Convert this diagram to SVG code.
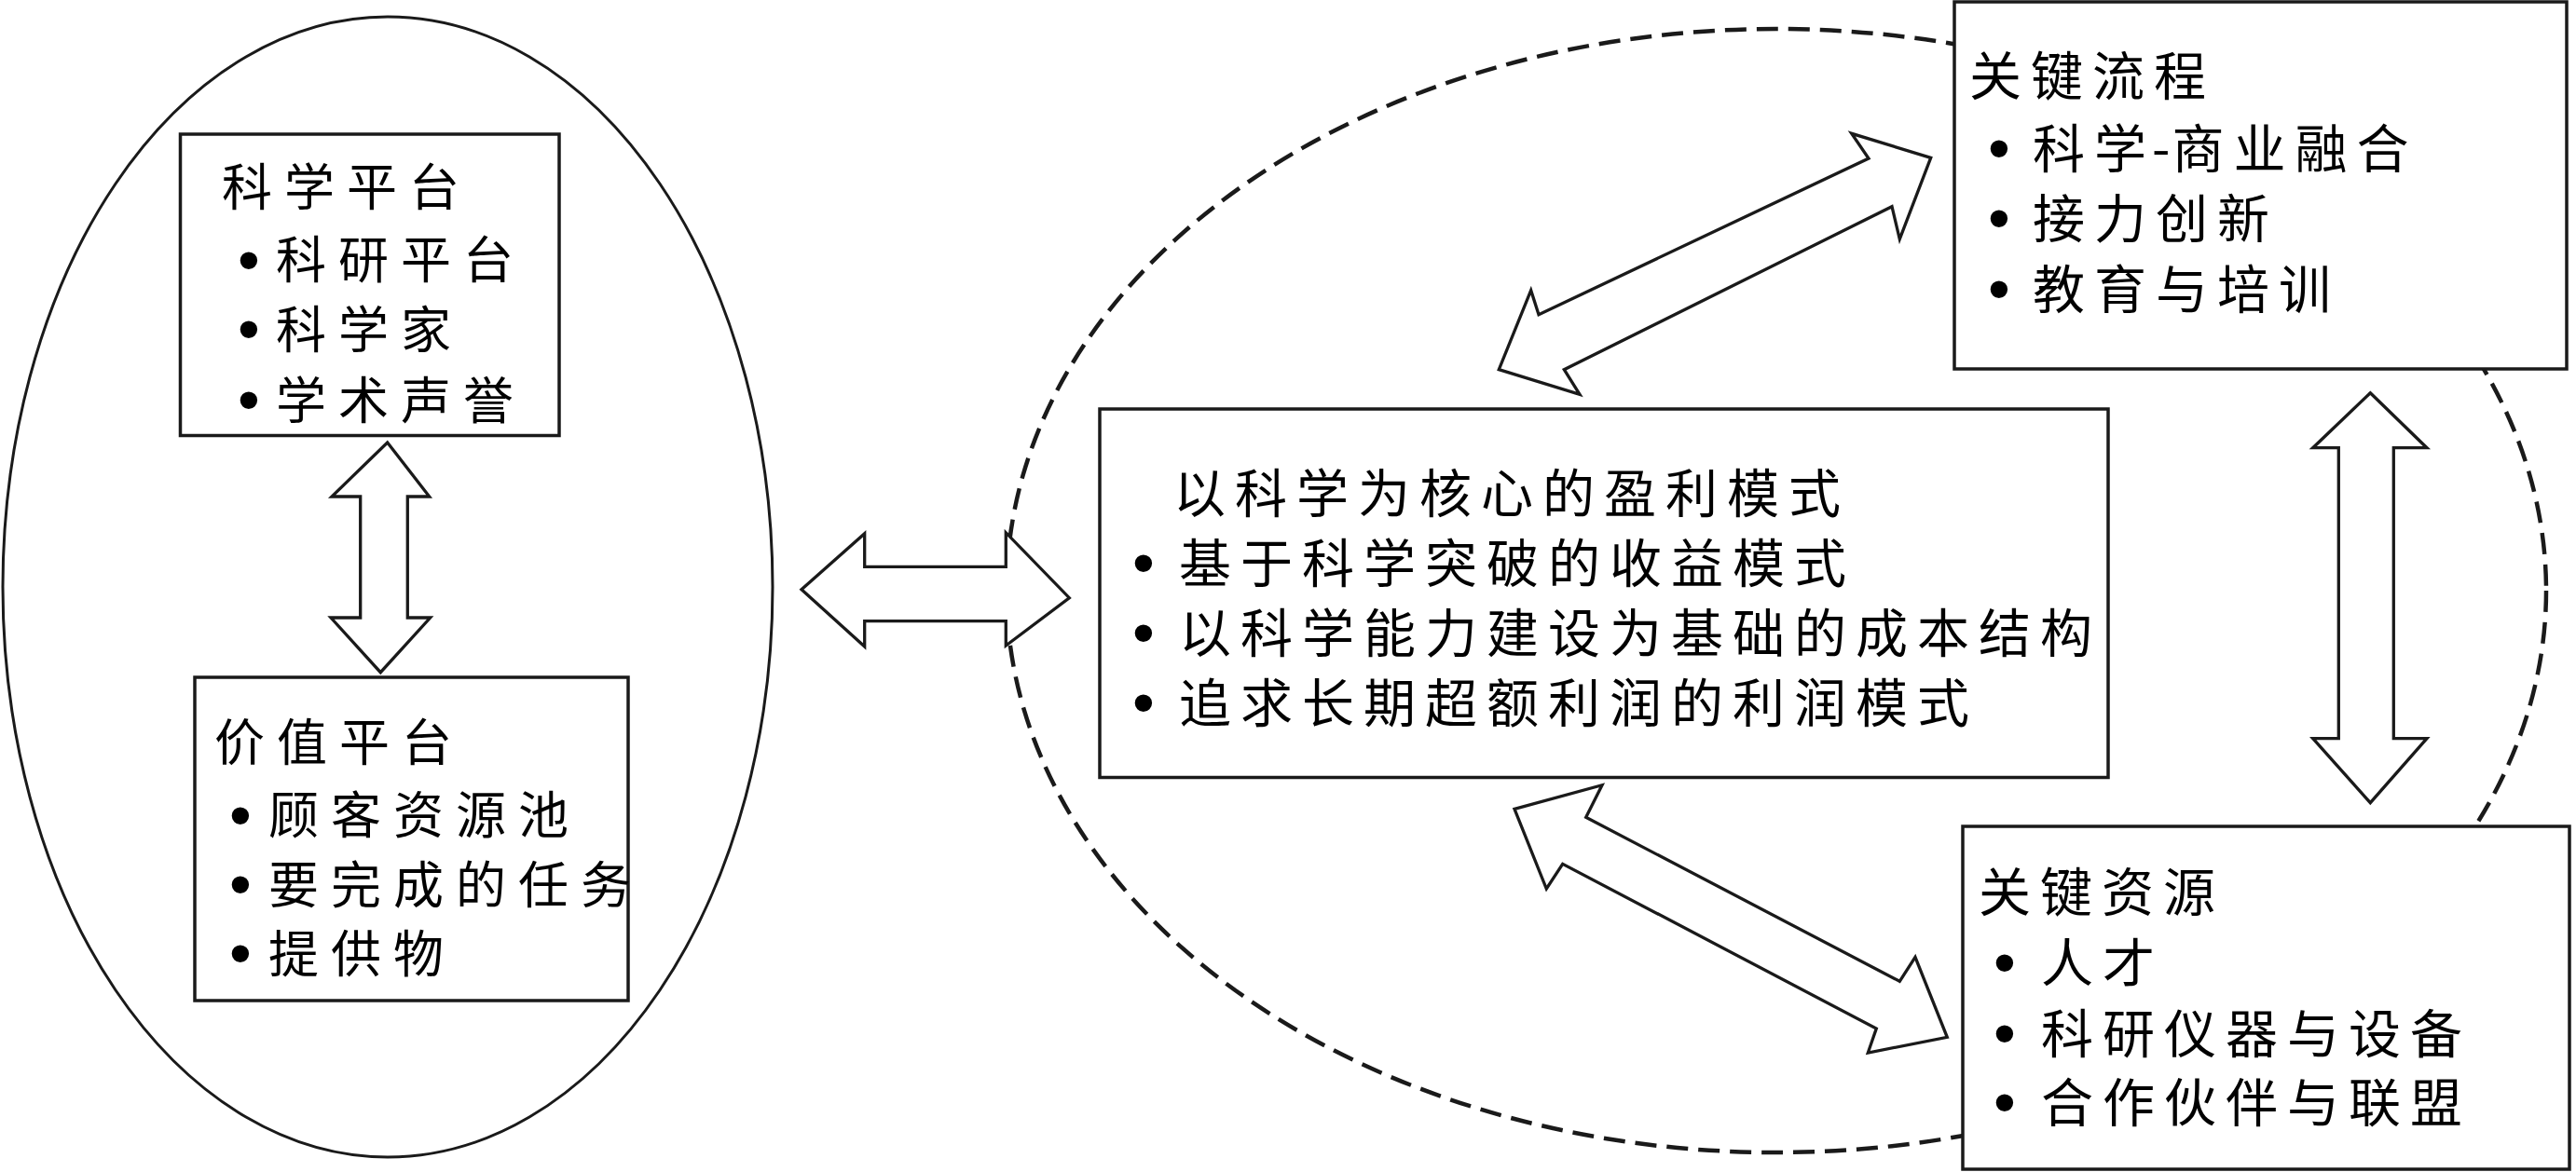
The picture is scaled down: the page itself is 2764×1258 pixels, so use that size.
<svg xmlns="http://www.w3.org/2000/svg" width="2764" height="1258" viewBox="0 0 2764 1258">
<style>
.box{fill:#fff;stroke:#1a1a1a;stroke-width:3.5}
.arrow{fill:#fff;stroke:#1a1a1a;stroke-width:3.3;stroke-linejoin:miter}
.ell{fill:none;stroke:#1a1a1a;stroke-width:3}
.dash{fill:none;stroke:#1a1a1a;stroke-width:4.5;stroke-dasharray:23 11}
.t{font-family:"Noto Sans CJK SC","Noto Sans CJK JP",sans-serif;font-size:56px;letter-spacing:10px;fill:#000}
.tl{font-family:"Noto Sans CJK SC","Noto Sans CJK JP",sans-serif;font-size:54px;letter-spacing:13px;fill:#000}
.b{font-family:"Liberation Sans","DejaVu Sans",sans-serif;font-size:68px;text-anchor:middle;fill:#000}
</style>
<rect width="2764" height="1258" fill="#fff"/>
<g id="value-network-boundary">
<ellipse class="dash" cx="1906" cy="634" rx="826" ry="603"/>
</g>
<g id="value-proposition-ellipse">
<ellipse class="ell" cx="416" cy="630" rx="413" ry="612"/>
</g>
<g id="science-platform">
<rect class="box" x="193.5" y="144" width="406.5" height="323.5"/>
<text class="tl" x="238" y="221">科学平台</text>
<text class="b" x="267" y="302">•</text><text class="tl" x="296" y="299">科研平台</text>
<text class="b" x="267" y="376">•</text><text class="tl" x="296" y="373.5">科学家</text>
<text class="b" x="267" y="452">•</text><text class="tl" x="296" y="449.5">学术声誉</text>
</g>
<g id="value-platform">
<rect class="box" x="209" y="727" width="465" height="347"/>
<text class="tl" x="230" y="816.5">价值平台</text>
<text class="b" x="258" y="897.5">•</text><text class="tl" x="288" y="895">顾客资源池</text>
<text class="b" x="258" y="972">•</text><text class="tl" x="288" y="969.5">要完成的任务</text>
<text class="b" x="258" y="1046">•</text><text class="tl" x="288" y="1043.5">提供物</text>
</g>
<g id="profit-model">
<rect class="box" x="1180" y="439" width="1082" height="395.5"/>
<text class="t" x="1259" y="549.6">以科学为核心的盈利模式</text>
<text class="b" x="1227" y="626.5">•</text><text class="t" x="1265" y="624.6">基于科学突破的收益模式</text>
<text class="b" x="1227" y="702">•</text><text class="t" x="1265" y="700.3">以科学能力建设为基础的成本结构</text>
<text class="b" x="1227" y="777">•</text><text class="t" x="1265" y="775.3">追求长期超额利润的利润模式</text>
</g>
<g id="key-processes">
<rect class="box" x="2097" y="2" width="657" height="394"/>
<text class="t" x="2113" y="102">关键流程</text>
<text class="b" x="2145" y="182">•</text><text class="t" x="2181" y="180">科学<tspan letter-spacing="0" dx="-4">-</tspan><tspan dx="2">商业融合</tspan></text>
<text class="b" x="2145" y="257">•</text><text class="t" x="2181" y="255">接力创新</text>
<text class="b" x="2145" y="333">•</text><text class="t" x="2181" y="331">教育与培训</text>
</g>
<g id="key-resources">
<rect class="box" x="2106" y="887" width="651" height="368"/>
<text class="t" x="2123" y="978">关键资源</text>
<text class="b" x="2151" y="1055.5">•</text><text class="t" x="2190" y="1054">人才</text>
<text class="b" x="2151" y="1132">•</text><text class="t" x="2190" y="1130">科研仪器与设备</text>
<text class="b" x="2151" y="1206">•</text><text class="t" x="2190" y="1204">合作伙伴与联盟</text>
</g>
<g id="connectors">
<polygon class="arrow" points="415.7,475 460.7,533 437.3,533 437.3,663 461.7,663 408.3,721.7 355,663 386.7,663 386.7,533 356,533"/>
<polygon class="arrow" points="860,632.7 927.7,572.7 927.7,608.3 1079.3,608.3 1079.3,571.7 1147.3,641.7 1079.3,693 1079.3,666.7 927.7,666.7 927.7,694"/>
<polygon class="arrow" points="2071.7,169.3 2038.3,256.7 2030,221.7 1678.3,396.7 1695,423.3 1608.3,396.7 1642.7,311.7 1651,337.7 2005,170 1986.7,143.3"/>
<polygon class="arrow" points="1625,868.3 1719,842.7 1701.7,877.3 2038.3,1053.3 2055,1027.3 2089.3,1113.3 2004.3,1130 2013.3,1104 1676.7,927.3 1659.3,954"/>
<polygon class="arrow" points="2543.3,421.7 2604,480.7 2568.3,480.7 2568.3,792.7 2604,792.7 2543.3,861.7 2481.7,792.7 2509.3,792.7 2509.3,480.7 2481.7,480.7"/>
</g>
</svg>
